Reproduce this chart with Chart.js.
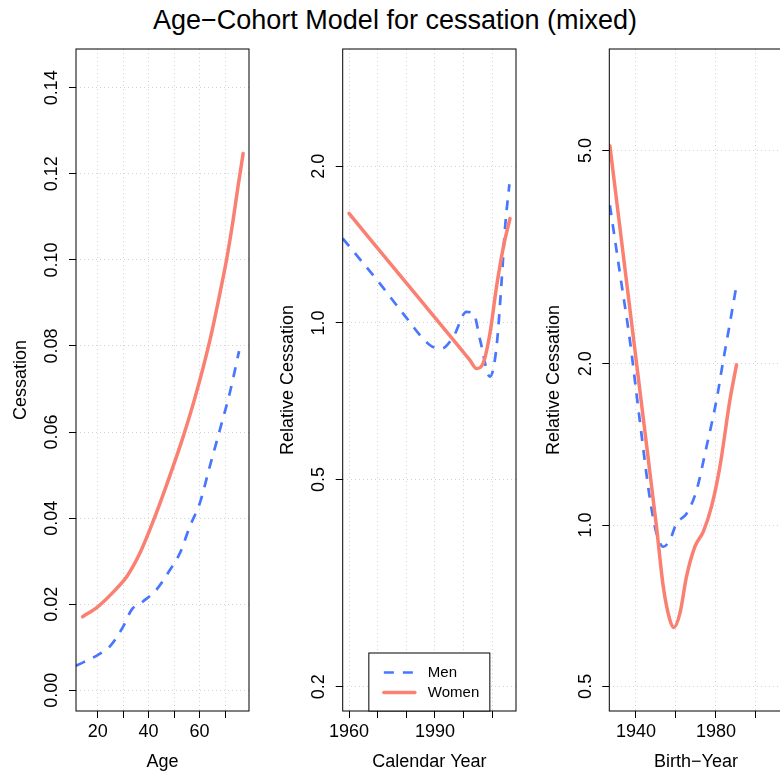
<!DOCTYPE html>
<html lang="en">
<head>
<meta charset="utf-8">
<title>Age-Cohort Model for cessation</title>
<script src="https://cdn.jsdelivr.net/npm/chart.js@4.4.1/dist/chart.umd.min.js"></script>
<style>
  html, body { margin: 0; padding: 0; background: #fff; overflow: hidden; }
  #wrap { position: relative; width: 780px; height: 776px; overflow: hidden; }
  #title { position: absolute; left: 0; top: 7px; width: 790px; text-align: center;
           font: 27px 'Liberation Sans', Arial, sans-serif; line-height: 27px; color: #000; }
  canvas { position: absolute; top: 0; }
</style>
</head>
<body>
<div id="wrap">
  <div id="title">Age&minus;Cohort Model for cessation (mixed)</div>
  <canvas id="age" width="260" height="776" style="left:0"></canvas>
  <canvas id="period" width="266" height="776" style="left:260px"></canvas>
  <canvas id="cohort" width="266" height="776" style="left:526px"></canvas>
</div>

<script>
// age effect: cessation rate
const ageMenX = [11.5, 20, 24.8, 30.0, 33.3, 37.9, 43.1, 48.4, 52.3, 56.2, 60.1, 64.0, 68.0, 71.9, 75.5];
const ageMenY = [0.0057, 0.0082, 0.0102, 0.0148, 0.0187, 0.0207, 0.0234, 0.0280, 0.0319, 0.0381, 0.0435, 0.0520, 0.0606, 0.0692, 0.0788];
const ageWomenX = [14.1, 20, 27.5, 31.4, 36.6, 41.8, 47.1, 53.6, 58.2, 64.0, 68.0, 70.6, 73.2, 75.1, 77.1];
const ageWomenY = [0.0171, 0.0194, 0.0237, 0.0264, 0.0319, 0.0393, 0.0478, 0.0590, 0.0680, 0.0812, 0.0923, 0.1001, 0.1094, 0.1171, 0.1247];

// period effect: relative cessation by calendar year
const perMenX = [1957.8, 1970.8, 1978.9, 1988.3, 1992.3, 1996.4, 2001.0, 2003.5, 2005.8, 2009.2, 2011.5, 2013.3, 2014.5, 2016.0];
const perMenY = [1.453, 1.19, 1.042, 0.906, 0.893, 0.94, 1.05, 1.042, 0.926, 0.788, 0.899, 1.208, 1.53, 1.847];
const perWomenX = [1960, 1981, 2002.2, 2004.5, 2006.8, 2009.2, 2011.5, 2013.9, 2016.2];
const perWomenY = [1.623, 1.175, 0.848, 0.817, 0.836, 0.954, 1.173, 1.40, 1.587];

// cohort effect: relative cessation by birth year
const cohMenX = [1927, 1932, 1937, 1942, 1947, 1950.3, 1953.7, 1957, 1960.3, 1965.3, 1970.3, 1975.3, 1980.3, 1983.7, 1987, 1990];
const cohMenY = [3.95, 2.95, 2.21, 1.56, 1.12, 0.965, 0.911, 0.938, 1.007, 1.05, 1.16, 1.40, 1.71, 2.03, 2.38, 2.76];
const cohWomenX = [1927, 1935, 1943, 1950.3, 1953.7, 1957, 1959, 1962, 1965.3, 1969.5, 1973.7, 1977.8, 1982, 1987, 1990.3];
const cohWomenY = [5.1, 2.91, 1.66, 0.993, 0.767, 0.665, 0.644, 0.684, 0.801, 0.911, 0.972, 1.082, 1.285, 1.71, 1.99];

// tick positions and which of them carry a label
const ageTicks = [20, 30, 40, 50, 60, 70];
const ageLabels = [20, 40, 60];
const rateTicks = [0, 0.02, 0.04, 0.06, 0.08, 0.10, 0.12, 0.14];
const yearTicks = [1960, 1970, 1980, 1990, 2000, 2010];
const yearLabels = [1960, 1990];
const periodRelTicks = [0.2, 0.5, 1, 2];
const birthTicks = [1940, 1960, 1980, 2000];
const birthLabels = [1940, 1980];
const cohortRelTicks = [0.5, 1, 2, 5];

const menColor = '#4876FF';
const womenColor = '#FA8072';
const fontFam = "'Liberation Sans', Arial, Helvetica, sans-serif";

function pts(xs, ys) {
  return xs.map((x, i) => ({ x: x, y: ys[i] }));
}

// box around the plotting region
const framePlugin = {
  id: 'frame',
  afterDraw(chart) {
    const { ctx, chartArea: a } = chart;
    ctx.save();
    ctx.strokeStyle = '#000';
    ctx.lineWidth = 1;
    ctx.strokeRect(a.left, a.top, a.right - a.left, a.bottom - a.top);
    ctx.restore();
  }
};

// boxed legend sitting on the bottom edge of the plot
const boxLegend = {
  id: 'boxLegend',
  afterDraw(chart, args, opts) {
    if (!opts.show) return;
    const { ctx, chartArea: a } = chart;
    const w = 121, h = 58;
    const left = (a.left + a.right) / 2 - w / 2;
    const top = a.bottom - h;
    ctx.save();
    ctx.fillStyle = '#fff';
    ctx.fillRect(left, top, w, h);
    ctx.strokeStyle = '#000';
    ctx.lineWidth = 1;
    ctx.strokeRect(left, top, w, h);
    chart.data.datasets.forEach((ds, i) => {
      const y = top + 19.5 + i * 20;
      ctx.beginPath();
      ctx.strokeStyle = ds.borderColor;
      ctx.lineWidth = ds.borderWidth;
      ctx.lineCap = ds.borderCapStyle || 'butt';
      ctx.setLineDash(ds.borderDash || []);
      ctx.moveTo(left + 15, y);
      ctx.lineTo(left + 46, y);
      ctx.stroke();
      ctx.setLineDash([]);
      ctx.fillStyle = '#000';
      ctx.font = '15px ' + fontFam;
      ctx.textBaseline = 'middle';
      ctx.textAlign = 'left';
      ctx.fillText(ds.label, left + 59, y);
    });
    ctx.restore();
  }
};

function axisFont() {
  return { family: fontFam, size: 18 };
}

function gridOpts() {
  return { color: '#d3d3d3', lineWidth: 1, tickColor: '#000', tickLength: 7, tickWidth: 1 };
}

function buildChart(id, cfg) {
  return new Chart(document.getElementById(id), {
    type: 'line',
    data: {
      datasets: [
        { label: 'Men', data: pts(cfg.menX, cfg.menY), borderColor: menColor, borderWidth: 2.7,
          borderDash: [10, 9], borderCapStyle: 'butt', order: 1 },
        { label: 'Women', data: pts(cfg.womenX, cfg.womenY), borderColor: womenColor, borderWidth: 3.5,
          borderCapStyle: 'round', order: 0 }
      ]
    },
    options: {
      responsive: false,
      animation: false,
      devicePixelRatio: 1,
      layout: { padding: { top: 49, right: cfg.padRight, bottom: 0, left: 0 } },
      elements: {
        point: { radius: 0 },
        line: { cubicInterpolationMode: 'monotone', borderJoinStyle: 'round', fill: false }
      },
      plugins: {
        legend: { display: false },
        tooltip: { enabled: false },
        boxLegend: { show: !!cfg.legend }
      },
      scales: {
        x: {
          type: 'linear', min: cfg.xMin, max: cfg.xMax, bounds: 'data',
          afterBuildTicks: s => { s.ticks = cfg.xTicks.map(v => ({ value: v })); },
          afterFit: s => { s.height = 65; },
          ticks: {
            autoSkip: false, maxRotation: 0, minRotation: 0, padding: 3, color: '#000', font: axisFont(),
            callback: v => cfg.xShown.includes(v) ? String(v) : ''
          },
          grid: gridOpts(),
          border: { display: false, dash: [1, 3] },
          title: { display: true, text: cfg.xTitle, color: '#000', font: axisFont(), padding: { top: 0, bottom: 3.5 } }
        },
        y: {
          type: cfg.yType, min: cfg.yMin, max: cfg.yMax, bounds: 'data',
          afterBuildTicks: s => { s.ticks = cfg.yTicks.map(v => ({ value: v })); },
          afterFit: s => { s.width = cfg.axisW; },
          ticks: {
            autoSkip: false, minRotation: 90, maxRotation: 90, crossAlign: 'center',
            padding: cfg.yTickPad, color: '#000', font: axisFont(),
            callback: v => v.toFixed(cfg.yDigits)
          },
          grid: gridOpts(),
          border: { display: false, dash: [1, 3] },
          title: { display: true, text: cfg.yTitle, color: '#000', font: axisFont(),
                   padding: { top: cfg.axisW - 55 - 10.8, bottom: 0 } }
        }
      }
    },
    plugins: [framePlugin, boxLegend]
  });
}

buildChart('age', {
  menX: ageMenX, menY: ageMenY, womenX: ageWomenX, womenY: ageWomenY,
  xMin: 11.5, xMax: 79.4, xTicks: ageTicks, xShown: ageLabels, xTitle: 'Age',
  yType: 'linear', yMin: -0.0048, yMax: 0.149, yTicks: rateTicks, yDigits: 2, yTitle: 'Cessation',
  axisW: 76, padRight: 11, yTickPad: -1
});

buildChart('period', {
  menX: perMenX, menY: perMenY, womenX: perWomenX, womenY: perWomenY,
  xMin: 1957.8, xMax: 2018.3, xTicks: yearTicks, xShown: yearLabels, xTitle: 'Calendar Year',
  yType: 'logarithmic', yMin: 0.1796, yMax: 3.36, yTicks: periodRelTicks, yDigits: 1, yTitle: 'Relative Cessation',
  axisW: 82.7, padRight: 10, yTickPad: 4, legend: true
});

buildChart('cohort', {
  menX: cohMenX, menY: cohMenY, womenX: cohWomenX, womenY: cohWomenY,
  xMin: 1926.7, xMax: 2013.35, xTicks: birthTicks, xShown: birthLabels, xTitle: 'Birth\u2212Year',
  yType: 'logarithmic', yMin: 0.4498, yMax: 7.73, yTicks: cohortRelTicks, yDigits: 1, yTitle: 'Relative Cessation',
  axisW: 83.3, padRight: 9.4, yTickPad: 4
});
</script>
</body>
</html>
